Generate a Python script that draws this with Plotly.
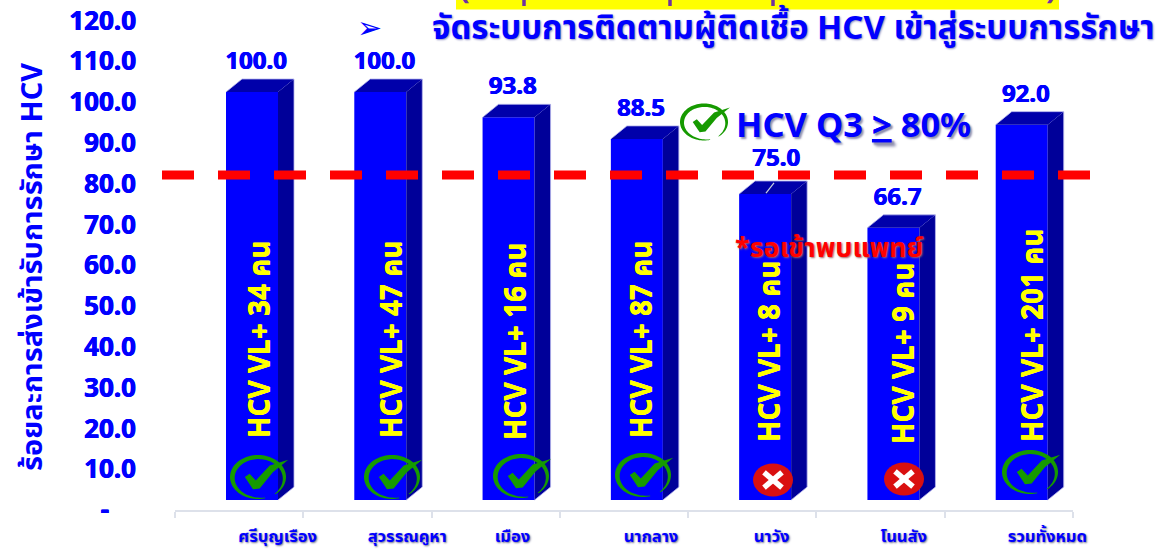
import numpy as np
import plotly.graph_objects as go

W, H = 1165, 549
categories = ["ศรีบุญเรือง", "สุวรรณคูหา", "เมือง", "นากลาง", "นาวัง", "โนนสัง", "รวมทั้งหมด"]
values = [100.0, 100.0, 93.8, 88.5, 75.0, 66.7, 92.0]
bar_texts = ["HCV VL+ 34 คน", "HCV VL+ 47 คน", "HCV VL+ 16 คน", "HCV VL+ 87 คน",
             "HCV VL+ 8 คน", "HCV VL+ 9 คน", "HCV VL+ 201 คน"]
passed = [True, True, True, True, False, False, True]
target = 82.1
y_ticks = [0, 10, 20, 30, 40, 50, 60, 70, 80, 90, 100, 110, 120]
y_labels = ["-&nbsp;&nbsp;&nbsp;&nbsp;", "10.0", "20.0", "30.0", "40.0", "50.0", "60.0", "70.0", "80.0",
            "90.0", "100.0", "110.0", "120.0"]

FONT = "Noto Sans, Noto Sans Thai, Liberation Sans, DejaVu Sans, sans-serif"
BLUE = "#0000FF"
HEAVY_BLUE = "0.5px 0 0 #0000FF, -0.4px 0 0 #0000FF"
HEAVY_YELLOW = "0 0.5px 0 #FFFF00, 0 -0.4px 0 #FFFF00"
AX_L, AX_R, AX_T, AX_B = 175.0, 1073.0, 20.4, 510.0
UNIT_X = (AX_R - AX_L) / 7
UNIT_Y = (AX_B - AX_T) / 120
BAR_OFF = (226 - (AX_L + UNIT_X / 2)) / UNIT_X
BAR_W = 52 / UNIT_X
BASE = (AX_B - 500) / UNIT_Y
DX = 16 / UNIT_X
DY = 13 / UNIT_Y


def px(x):
    return x / W


def py(y):
    return 1 - y / H


def sx(x):
    return f"{px(x):.5f}"


def sy(y):
    return f"{py(y):.5f}"


def poly(points, close=True):
    s = "M" + " L".join(f"{sx(a)},{sy(b)}" for a, b in points)
    return s + (" Z" if close else "")


idx = list(range(len(values)))
fig = go.Figure()

# front faces
fig.add_trace(go.Bar(x=idx, y=values, base=[BASE] * len(values), width=BAR_W, offset=BAR_OFF,
                     marker=dict(color=BLUE, line=dict(width=0)), showlegend=False, hoverinfo="skip"))

# side and top faces from the same values
sxs, sys, txs, tys, oxs, oys = [], [], [], [], [], []
for i, v in zip(idx, values):
    l = i + BAR_OFF
    r = l + BAR_W
    top = v + BASE
    sxs += [r, r + DX, r + DX, r, r, None]
    sys += [BASE, BASE + DY, top + DY, top, BASE, None]
    txs += [l, l + DX, r + DX, r, l, None]
    tys += [top, top + DY, top + DY, top, top, None]
    oxs += [l, l + DX, r + DX, r + DX, r, None]
    oys += [top, top + DY, top + DY, BASE + DY, BASE, None]
fig.add_trace(go.Scatter(x=sxs, y=sys, mode="lines", fill="toself", fillcolor="#000099",
                         line=dict(color="#000099", width=0), showlegend=False, hoverinfo="skip"))
fig.add_trace(go.Scatter(x=txs, y=tys, mode="lines", fill="toself", fillcolor="#0000AA",
                         line=dict(color="#0000AA", width=0), showlegend=False, hoverinfo="skip"))
fig.add_trace(go.Scatter(x=oxs, y=oys, mode="lines", line=dict(color="#b4b4ec", width=0.8),
                         showlegend=False, hoverinfo="skip"))

# value labels
label_x = [i + 17 / UNIT_X for i in idx]
label_x[4] = 4 + 24 / UNIT_X
label_y = [v + BASE + DY + 16 / UNIT_Y for v in values]
label_y[4] = values[4] + BASE + DY + 21 / UNIT_Y
fig.add_trace(go.Scatter(x=label_x, y=label_y, xaxis="x2", mode="text", text=[f"{v:.1f}" for v in values],
                         textposition="middle center",
                         textfont=dict(family=FONT, size=24, color=BLUE, weight="bold", shadow=HEAVY_BLUE),
                         cliponaxis=False, showlegend=False, hoverinfo="skip"))

shapes = []
# leader line of the 75.0 label
shapes.append(dict(type="path", xref="paper", yref="paper", path=poly([(774, 183), (766, 193)], False),
                   line=dict(color="#c8d0e0", width=1.2)))
# target line
shapes.append(dict(type="line", xref="paper", yref="y", x0=px(162), x1=px(1092), y0=target, y1=target,
                   line=dict(color="#FF0000", width=9, dash="32px,24px")))
# yellow banner, cut by the page top
shapes.append(dict(type="rect", xref="paper", yref="paper", x0=px(456), x1=px(1059), y0=py(9.5), y1=py(-2),
                   fillcolor="#FFFF00", line=dict(width=0), layer="below"))
# fragments of the banner's cut text
for a in (524, 670, 773):
    shapes.append(dict(type="path", xref="paper", yref="paper", path=poly([(a, -1), (a, 6)], False),
                       line=dict(color="#7030A0", width=3.5)))


def check_icon(cx, cy, rx, ry, color="#169A00"):
    th = np.radians(np.linspace(-52, 285, 90))
    t = np.linspace(0, 1, 90)
    thick = 0.03 + 0.16 * np.sin(np.pi * t) ** 0.8
    outer = [(cx + rx * np.cos(a), cy - ry * np.sin(a)) for a in th]
    inner = [(cx + rx * (1 - k) * np.cos(a), cy - ry * (1 - k) * np.sin(a)) for a, k in zip(th, thick)]
    shapes.append(dict(type="path", xref="paper", yref="paper", path=poly(outer + inner[::-1]),
                       fillcolor=color, line=dict(width=0)))
    tick = [(-0.47, 0.0), (-0.3, -0.15), (-0.08, 0.16), (0.42, -0.52), (1.08, -0.78), (0.53, -0.22),
            (0.06, 0.52), (-0.18, 0.56)]
    shapes.append(dict(type="path", xref="paper", yref="paper",
                       path=poly([(cx + a * rx, cy + b * ry) for a, b in tick]),
                       fillcolor=color, line=dict(width=0)))


def cross_icon(cx, cy, rx, ry):
    shapes.append(dict(type="circle", xref="paper", yref="paper", x0=px(cx - rx), x1=px(cx + rx),
                       y0=py(cy + ry), y1=py(cy - ry), fillcolor="#D91010", line=dict(width=0)))
    d = 9
    for s in (1, -1):
        shapes.append(dict(type="path", xref="paper", yref="paper",
                           path=poly([(cx - d, cy - s * d * 0.85), (cx + d, cy + s * d * 0.85)], False),
                           line=dict(color="#FFFFFF", width=5.5)))


icon_centres = [(258, 477), (392, 477), (521, 476), (643, 475), (773, 480), (904, 479), (1030, 472)]
for ok, (cx, cy) in zip(passed, icon_centres):
    if ok:
        check_icon(cx, cy, 28, 22)
    else:
        cross_icon(cx, cy, 20, 16.5)
check_icon(704, 122, 24, 18.5)

ann = []


def note(text, x, y, font, **kw):
    ann.append(dict(text=text, xref="paper", yref="paper", x=px(x), y=py(y), showarrow=False,
                    xanchor=kw.pop("xanchor", "center"), yanchor=kw.pop("yanchor", "middle"), font=font, **kw))


# text inside the bars
text_x = [258, 390, 514, 640, 768, 902, 1031]
text_bottom = [440, 440, 442, 440, 444, 446, 444]
for t, a, b in zip(bar_texts, text_x, text_bottom):
    note(f"<b>{t}</b>", a, b, dict(family=FONT, size=28, color="#FFFF00", shadow=HEAVY_YELLOW),
         textangle=-90, yanchor="bottom")
# title
note("➢", 369, 27, dict(family="DejaVu Sans", size=30, color=BLUE))
note("<b>จัดระบบการติดตามผู้ติดเชื้อ HCV เข้าสู่ระบบการรักษา</b>", 793, 26,
     dict(family=FONT, size=33, color=BLUE, shadow="1px 1px 2px #9090c0"))
# banner text cut by the page edge
note("<b>(</b>", 464, -14, dict(family=FONT, size=32, color="#7030A0"))
note("<b>)</b>", 1051, -14, dict(family=FONT, size=32, color="#7030A0"))
# note on target
note("<b>HCV Q3 <u>&gt;</u> 80%</b>", 853, 124, dict(family=FONT, size=34.5, color=BLUE, shadow="2px 2px 2px #9090b0"))
note("<b>*รอเข้าพบแพทย์</b>", 829, 246, dict(family=FONT, size=27, color="#FF0000", shadow="1px 1px 2px #a06060"))
# y axis title
note("<b>ร้อยละการส่งเข้ารับการรักษา HCV</b>", 30, 267, dict(family=FONT, size=29, color=BLUE), textangle=-90)

fig.update_layout(
    width=W, height=H, margin=dict(l=0, r=0, t=0, b=0, autoexpand=False), paper_bgcolor="white", plot_bgcolor="white",
    showlegend=False, shapes=shapes, annotations=ann, barmode="overlay",
    xaxis=dict(domain=[px(AX_L), px(AX_R)], range=[-0.5, 6.5], tickmode="array",
               tickvals=[k - 0.5 for k in range(8)], ticktext=[""] * 8, ticks="outside", ticklen=6,
               tickwidth=2, tickcolor="#DDE1EA", showline=True, linecolor="#DDE1EA", linewidth=2,
               showgrid=False, zeroline=False, anchor="y"),
    xaxis2=dict(domain=[px(AX_L), px(AX_R)], range=[-0.5, 6.5], overlaying="x", anchor="y", side="bottom",
                tickmode="array", tickvals=[0.30, 1.31, 2.13, 3.21, 4.15, 5.18, 6.30], ticktext=categories,
                ticks="", ticklabelstandoff=14, showgrid=False, zeroline=False, showline=False,
                tickfont=dict(family=FONT, size=16.5, color=BLUE, weight="bold", shadow="1px 1px 2px #707090")),
    yaxis=dict(domain=[py(AX_B), py(AX_T)], range=[0, 120], tickmode="array", tickvals=y_ticks, ticktext=y_labels,
               ticks="", ticklabelstandoff=38, showgrid=False, zeroline=False, showline=False,
               tickfont=dict(family=FONT, size=26, color=BLUE, weight="bold", shadow=HEAVY_BLUE)),
)

fig.write_html("out.html", config={"displayModeBar": False},
               post_script="document.body.style.margin='0';document.body.style.overflow='hidden';")
